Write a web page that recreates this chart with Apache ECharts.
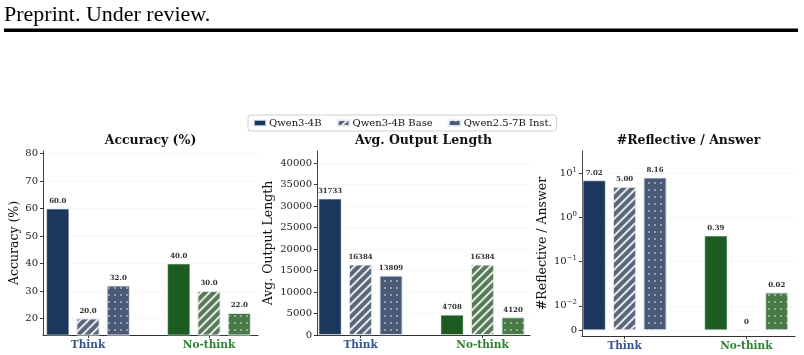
<!DOCTYPE html>
<html><head><meta charset="utf-8">
<script src="https://cdn.jsdelivr.net/npm/echarts@6/dist/echarts.min.js"></script>
<style>html,body{margin:0;padding:0;background:#fff}#c{width:804px;height:355px}</style>
</head><body><div id="c"></div>
<script>
// ---- data ----
const groups = ['Think', 'No-think'];
const models = ['Qwen3-4B', 'Qwen3-4B Base', 'Qwen2.5-7B Inst.'];
const accuracy = [[60.0, 40.0], [20.0, 30.0], [32.0, 22.0]];          // per model: [Think, No-think]
const outputLength = [[31733, 4708], [16384, 16384], [13809, 4120]];
const reflective = [[7.02, 0.39], [5.00, 0], [8.16, 0.02]];
const accTicks = [20, 30, 40, 50, 60, 70, 80];
const lenTicks = [0, 5000, 10000, 15000, 20000, 25000, 30000, 35000, 40000];
const refTicks = [0, 0.01, 0.1, 1, 10];
const refTickLabels = ['0', '10{s|\u22122}', '10{s|\u22121}', '10{s|0}', '10{s|1}'];
const panelTitles = ['Accuracy (%)', 'Avg. Output Length', '#Reflective / Answer'];

// ---- style ----
const colors = {
  Think: ['#1c375c', '#5a6679', '#4a5a76'],
  'No-think': ['#1d5c20', '#587a58', '#477a47']
};
const labelColors = {Think: '#34558f', 'No-think': '#2f8234'};
const serif = '"DejaVu Serif", serif';
const decals = [
  null,
  {symbol: 'rect', color: 'rgba(255,255,255,0.85)', dashArrayX: [1, 0], dashArrayY: [1.5, 3.2], rotation: -Math.PI / 4},
  {symbol: 'circle', color: 'rgba(255,255,255,0.95)', symbolSize: 0.8, dashArrayX: [[2, 4]], dashArrayY: [2, 4.5]}
];
const offsets = [-0.25, 0, 0.25];

// symlog (linthresh 0.01, linscale 0.5)
const LT = 0.01, LIN = 0.5 / (1 - 0.1);
function symlog(v) { return v <= LT ? v / LT * LIN : LIN + Math.log10(v / LT); }

const grids = [
  {left: 43, top: 151, width: 215, height: 184},
  {left: 317, top: 151, width: 213, height: 184},
  {left: 582, top: 151, width: 213, height: 185}
];
const xRanges = [[-0.372, 1.405], [-0.357, 1.389], [-0.35, 1.40]];

const axisLineStyle = {color: '#333', width: 1};
const xAxes = grids.map((g, p) => ({
  type: 'value', gridIndex: p, min: xRanges[p][0], max: xRanges[p][1],
  axisLine: {show: true, onZero: false, lineStyle: axisLineStyle},
  axisTick: {show: true, length: 3, customValues: [0, 1], lineStyle: {color: '#333'}},
  splitLine: {show: false},
  axisLabel: {
    customValues: [0, 1], margin: 5,
    formatter: v => (Math.round(v) === 0 ? '{t|Think}' : '{n|No-think}'),
    rich: {
      t: {fontFamily: serif, fontWeight: 'bold', fontSize: 10.5, color: labelColors.Think},
      n: {fontFamily: serif, fontWeight: 'bold', fontSize: 10.5, color: labelColors['No-think']}
    }
  }
}));

const yNameStyle = {fontFamily: serif, fontSize: 12.5, color: '#111'};
const yLabelStyle = {fontFamily: serif, fontSize: 10, color: '#222', margin: 5};
const splitStyle = {show: true, lineStyle: {color: '#efefef', width: 0.8, type: [2, 2]}};
const refTickPos = refTicks.map(symlog);
const yAxes = [
  {type: 'value', gridIndex: 0, min: 14, max: 81, name: 'Accuracy (%)', nameGap: 22,
   axisLabel: Object.assign({customValues: accTicks, formatter: v => String(v)}, yLabelStyle),
   axisTick: {show: true, length: 3, customValues: accTicks, lineStyle: {color: '#333'}}},
  {type: 'value', gridIndex: 1, min: 0, max: 42840, name: 'Avg. Output Length', nameGap: 42,
   axisLabel: Object.assign({customValues: lenTicks, formatter: v => String(v)}, yLabelStyle),
   axisTick: {show: true, length: 3, customValues: lenTicks, lineStyle: {color: '#333'}}},
  {type: 'value', gridIndex: 2, min: -0.13, max: symlog(32.64), name: '#Reflective / Answer', nameGap: 33,
   axisLabel: Object.assign({customValues: refTickPos,
     formatter: v => { const i = refTickPos.findIndex(t => Math.abs(t - v) < 1e-6); return i >= 0 ? refTickLabels[i] : ''; },
     rich: {s: {fontFamily: serif, fontSize: 7, padding: [0, 0, 7, 0], color: '#222'}}}, yLabelStyle),
   axisTick: {show: true, length: 3, customValues: refTickPos, lineStyle: {color: '#333'}}}
].map(a => Object.assign(a, {
  nameLocation: 'middle', nameRotate: 90, nameTextStyle: yNameStyle,
  axisLine: {show: true, onZero: false, lineStyle: {color: '#444', width: 1}},
  splitLine: splitStyle
}));

const panels = [
  {vals: accuracy, fmt: v => v.toFixed(1), tf: v => v},
  {vals: outputLength, fmt: v => String(v), tf: v => v},
  {vals: reflective, fmt: v => (v === 0 ? '0' : v.toFixed(2)), tf: symlog}
];

const series = [];
panels.forEach((pn, p) => {
  models.forEach((m, s) => {
    series.push({
      type: 'bar', name: m, xAxisIndex: p, yAxisIndex: p,
      barWidth: 23, barGap: '-100%',
      itemStyle: {color: colors.Think[s], decal: decals[s] || undefined, borderColor: 'rgba(235,240,248,0.7)', borderWidth: 0.8},
      label: {show: true, position: 'top', distance: 4, fontFamily: serif, fontWeight: 'bold', fontSize: 7, color: '#333',
              formatter: prm => pn.fmt(prm.value[2])},
      data: groups.map((g, i) => ({
        value: [i + offsets[s], pn.tf(pn.vals[s][i]), pn.vals[s][i]],
        itemStyle: {color: colors[g][s], decal: decals[s] || undefined}
      }))
    });
  });
});

const chart = echarts.init(document.getElementById('c'), null, {renderer: 'canvas'});
chart.setOption({
  animation: false,
  backgroundColor: '#fff',
  title: panelTitles.map((t, p) => ({
    text: t, left: grids[p].left + grids[p].width / 2, top: 134, textAlign: 'center', padding: 0,
    textStyle: {fontFamily: serif, fontWeight: 'bold', fontSize: 12.5, color: '#111'}
  })),
  legend: {
    data: models, left: 248, top: 115, orient: 'horizontal',
    itemWidth: 12, itemHeight: 6, itemGap: 15, icon: 'rect',
    padding: [3, 5, 3, 5], borderColor: '#d0d0d0', borderWidth: 1, borderRadius: 3,
    textStyle: {fontFamily: serif, fontSize: 10, color: '#111', padding: [0, 0, 0, -2]}
  },
  graphic: [
    {type: 'text', left: 4, top: 4, style: {text: 'Preprint. Under review.', font: '22px "Liberation Serif"', fill: '#000'}},
    {type: 'rect', shape: {x: 4, y: 28.5, width: 794, height: 3.5}, style: {fill: '#000'}}
  ],
  grid: grids,
  xAxis: xAxes,
  yAxis: yAxes,
  series: series
});
</script></body></html>
